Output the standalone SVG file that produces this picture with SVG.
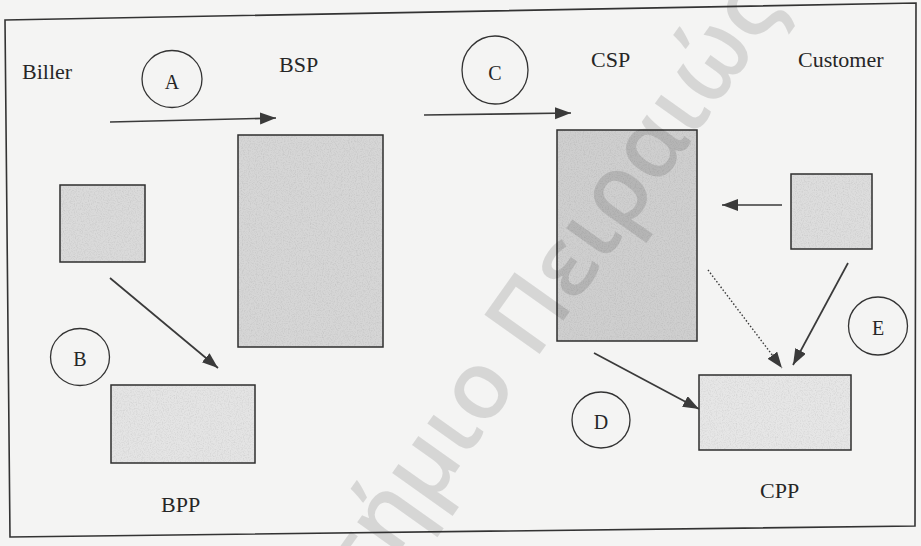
<svg xmlns="http://www.w3.org/2000/svg" width="921" height="546" viewBox="0 0 921 546">
  <defs>
    <marker id="ah" markerUnits="userSpaceOnUse" markerWidth="18" markerHeight="14" refX="16" refY="6" orient="auto">
      <path d="M0,0 L16,6 L0,12 z" fill="#3a3a3a"/>
    </marker>
    <filter id="grain" x="0" y="0" width="100%" height="100%">
      <feTurbulence type="fractalNoise" baseFrequency="0.85" numOctaves="2" seed="3" result="n"/>
      <feColorMatrix in="n" type="matrix" values="0.35 0 0 0 0.8  0.35 0 0 0 0.8  0.35 0 0 0 0.8  0 0 0 0 1" result="g"/>
      <feBlend in="SourceGraphic" in2="g" mode="multiply" result="b"/>
      <feComposite in="b" in2="SourceGraphic" operator="in"/>
    </filter>
  </defs>
  <style>
    .lbl { font-size: 22px; fill: #262626; }
    .cl { font-size: 20px; fill: #262626; text-anchor: middle; }
    .ring { fill: none; stroke: #333; stroke-width: 1.3; }
    .edge { fill: none; stroke: #2e2e2e; stroke-width: 1.5; }
    .conn { stroke: #3a3a3a; stroke-width: 1.7; fill: none; marker-end: url(#ah); }
    .dot { stroke-dasharray: 1.5 2; stroke-width: 1.4; }
    .wm { font-size: 95px; font-weight: 600; fill: #000; fill-opacity: 0.12; }
  </style>
  <rect x="0" y="0" width="921" height="546" fill="#f4f4f3"/>

  <g id="biller-box"><rect x="60" y="185" width="85" height="77" fill="#dadada" filter="url(#grain)"/><rect class="edge" x="60" y="185" width="85" height="77"/></g>
  <g id="bsp-box"><rect x="238" y="135" width="145" height="212" fill="#d6d6d6" filter="url(#grain)"/><rect class="edge" x="238" y="135" width="145" height="212"/></g>
  <g id="bpp-box"><rect x="111" y="385" width="144" height="78" fill="#e4e4e4" filter="url(#grain)"/><rect class="edge" x="111" y="385" width="144" height="78"/></g>
  <g id="csp-box"><rect x="557" y="130" width="140" height="211" fill="#cfcfcf" filter="url(#grain)"/><rect class="edge" x="557" y="130" width="140" height="211"/></g>
  <g id="customer-box"><rect x="791" y="174" width="81" height="75" fill="#dddddd" filter="url(#grain)"/><rect class="edge" x="791" y="174" width="81" height="75"/></g>
  <g id="cpp-box"><rect x="699" y="375" width="152" height="75" fill="#e6e6e6" filter="url(#grain)"/><rect class="edge" x="699" y="375" width="152" height="75"/></g>

  <text class="wm" font-family="'Open Sans', 'Noto Sans', sans-serif" transform="translate(502,407) rotate(-54.6)"><tspan x="29" text-anchor="end">Πανεπιστήμιο</tspan><tspan x="56" text-anchor="start">Πειραιώς</tspan></text>

  <polygon points="5,20 916,3 915,526 10,537" fill="none" stroke="#333" stroke-width="1.6"/>

  <g id="labels" font-family="'Liberation Serif', 'Times New Roman', serif">
    <text class="lbl" x="22" y="79">Biller</text>
    <text class="lbl" x="279" y="72">BSP</text>
    <text class="lbl" x="591" y="67">CSP</text>
    <text class="lbl" x="798" y="67">Customer</text>
    <text class="lbl" x="161" y="512">BPP</text>
    <text class="lbl" x="760" y="498">CPP</text>
  </g>

  <g id="step-a"><ellipse class="ring" cx="172" cy="79" rx="30" ry="28.5"/><text class="cl" font-family="'Liberation Serif', 'Times New Roman', serif" x="172" y="89">A</text></g>
  <g id="step-b"><ellipse class="ring" cx="80" cy="357" rx="29.5" ry="28.5"/><text class="cl" font-family="'Liberation Serif', 'Times New Roman', serif" x="80" y="366">B</text></g>
  <g id="step-c"><ellipse class="ring" cx="495" cy="70" rx="33" ry="34"/><text class="cl" font-family="'Liberation Serif', 'Times New Roman', serif" x="495" y="80">C</text></g>
  <g id="step-d"><ellipse class="ring" cx="601" cy="420" rx="29" ry="28"/><text class="cl" font-family="'Liberation Serif', 'Times New Roman', serif" x="601" y="429">D</text></g>
  <g id="step-e"><ellipse class="ring" cx="878" cy="326" rx="29.5" ry="29"/><text class="cl" font-family="'Liberation Serif', 'Times New Roman', serif" x="878" y="335">E</text></g>

  <g id="connectors">
    <line class="conn" x1="110" y1="122" x2="276" y2="118"/>
    <line class="conn" x1="424" y1="115" x2="571" y2="113"/>
    <line class="conn" x1="110" y1="278" x2="218" y2="368"/>
    <line class="conn" x1="782" y1="205" x2="722" y2="205"/>
    <line class="conn dot" x1="708" y1="270" x2="782" y2="368"/>
    <line class="conn" x1="848" y1="263" x2="793" y2="365"/>
    <line class="conn" x1="594" y1="353" x2="699" y2="409"/>
  </g>
</svg>
